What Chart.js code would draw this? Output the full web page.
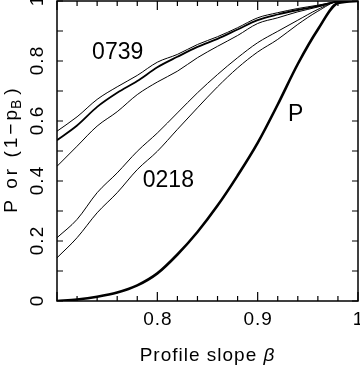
<!DOCTYPE html>
<html lang="en">
<head>
    <meta charset="UTF-8">
    <title>Profile slope</title>
    <script src="https://cdn.jsdelivr.net/npm/chart.js"></script>
    <style>
        html, body { margin: 0; padding: 0; background: white; }
        #wrap { width: 360px; height: 368px; position: relative; }
    </style>
</head>
<body>
    <div id="wrap"><canvas id="slopeChart"></canvas></div>

    <script>
        // profile slope beta (x) and the curves
        const betaValues = [0.70, 0.72, 0.74, 0.76, 0.78, 0.80, 0.82, 0.84, 0.86, 0.88, 0.90, 0.92, 0.94, 0.96, 0.98, 1.00];
        const curveTopThin = [0.566, 0.614, 0.672, 0.714, 0.752, 0.796, 0.822, 0.855, 0.881, 0.911, 0.944, 0.961, 0.975, 0.986, 0.998, 1.0];
        const curve0739 = [0.536, 0.585, 0.647, 0.694, 0.733, 0.779, 0.814, 0.847, 0.874, 0.905, 0.936, 0.955, 0.970, 0.983, 0.998, 1.0];
        const curveMidThin = [0.449, 0.516, 0.583, 0.631, 0.688, 0.730, 0.766, 0.811, 0.849, 0.885, 0.925, 0.944, 0.964, 0.980, 0.998, 1.0];
        const curve0218a = [0.211, 0.272, 0.361, 0.427, 0.499, 0.560, 0.627, 0.694, 0.755, 0.811, 0.861, 0.899, 0.936, 0.972, 0.998, 1.0];
        const curve0218b = [0.144, 0.211, 0.294, 0.361, 0.438, 0.499, 0.572, 0.644, 0.714, 0.777, 0.830, 0.872, 0.922, 0.966, 0.998, 1.0];
        const curveP = [0.0, 0.005, 0.014, 0.028, 0.052, 0.092, 0.155, 0.230, 0.318, 0.418, 0.527, 0.655, 0.790, 0.905, 0.993, 1.0];

        const xTickValues = [0.8, 0.9, 1.0];
        const xTickLabels = ["0.8", "0.9", "1"];
        const yTickValues = [0, 0.2, 0.4, 0.6, 0.8, 1.0];
        const yTickLabels = ["0", "0.2", "0.4", "0.6", "0.8", "1"];

        // text labels placed in data coordinates
        const curveLabels = [
            { text: "0739", x: 0.7605, y: 0.827 },
            { text: "0218", x: 0.811, y: 0.40 },
            { text: "P", x: 0.938, y: 0.622 }
        ];

        const FONT = '"Liberation Sans", Arial, sans-serif';

        function toPoints(values) {
            return betaValues.map((b, i) => ({ x: b, y: values[i] }));
        }

        function lineSet(values, width) {
            return {
                data: toPoints(values),
                borderColor: 'black',
                borderWidth: width,
                pointRadius: 0,
                fill: false,
                cubicInterpolationMode: 'monotone'
            };
        }

        // frame, inward ticks, tick labels, titles and curve labels
        const framePlugin = {
            id: 'frame',
            afterDraw(chart) {
                const ctx = chart.ctx;
                const xs = chart.scales.x;
                const ys = chart.scales.y;
                const a = chart.chartArea;
                ctx.save();
                ctx.strokeStyle = 'black';
                ctx.lineWidth = 1.5;
                ctx.strokeRect(a.left, a.top, a.right - a.left, a.bottom - a.top);

                ctx.lineWidth = 1.2;
                ctx.beginPath();
                // x ticks every 0.02, longer at the labelled ones
                for (let i = 0; i <= 15; i++) {
                    const px = xs.getPixelForValue(0.7 + i * 0.02);
                    const len = i % 5 === 0 ? 9 : 5;
                    ctx.moveTo(px, a.bottom); ctx.lineTo(px, a.bottom - len);
                    ctx.moveTo(px, a.top); ctx.lineTo(px, a.top + len);
                }
                // y ticks every 0.1
                for (let i = 0; i <= 10; i++) {
                    const py = ys.getPixelForValue(i * 0.1);
                    ctx.moveTo(a.left, py); ctx.lineTo(a.left + 6, py);
                    ctx.moveTo(a.right, py); ctx.lineTo(a.right - 6, py);
                }
                ctx.stroke();

                ctx.fillStyle = 'black';
                ctx.textAlign = 'center';
                ctx.textBaseline = 'middle';

                // tick labels
                ctx.letterSpacing = '1px';
                ctx.font = '19px ' + FONT;
                xTickValues.forEach((v, i) => {
                    ctx.fillText(xTickLabels[i], xs.getPixelForValue(v) + 0.5, a.bottom + 19);
                });
                yTickValues.forEach((v, i) => {
                    ctx.save();
                    ctx.translate(a.left - 19, ys.getPixelForValue(v));
                    ctx.rotate(-Math.PI / 2);
                    ctx.fillText(yTickLabels[i], 0.5, 0);
                    ctx.restore();
                });

                ctx.letterSpacing = '0px';
                ctx.font = '23px ' + FONT;
                curveLabels.forEach(l => {
                    ctx.fillText(l.text, xs.getPixelForValue(l.x), ys.getPixelForValue(l.y));
                });

                // x axis title, beta in italic
                const cx = (a.left + a.right) / 2;
                ctx.textBaseline = 'alphabetic';
                ctx.textAlign = 'left';
                ctx.letterSpacing = '1px';
                ctx.font = '19px ' + FONT;
                const part1 = 'Profile slope ';
                const w1 = ctx.measureText(part1).width;
                ctx.font = 'italic 19px ' + FONT;
                const w2 = ctx.measureText('\u03B2').width;
                const sx = cx - (w1 + w2) / 2;
                ctx.font = '19px ' + FONT;
                ctx.fillText(part1, sx, 361);
                ctx.font = 'italic 19px ' + FONT;
                ctx.fillText('\u03B2', sx + w1, 361);

                // y axis title with subscript B
                ctx.translate(16.5, (a.top + a.bottom) / 2 - 2);
                ctx.rotate(-Math.PI / 2);
                ctx.letterSpacing = '3px';
                ctx.font = '19px ' + FONT;
                const t1 = 'P or (1\u2212p';
                const t3 = ')';
                const tw1 = ctx.measureText(t1).width;
                const tw3 = ctx.measureText(t3).width;
                ctx.font = '14px ' + FONT;
                const tw2 = ctx.measureText('B').width;
                const tx = -(tw1 + tw2 + tw3) / 2;
                ctx.font = '19px ' + FONT;
                ctx.fillText(t1, tx, 0);
                ctx.font = '14px ' + FONT;
                ctx.fillText('B', tx + tw1 - 2, 4);
                ctx.font = '19px ' + FONT;
                ctx.fillText(t3, tx + tw1 + tw2, 0);
                ctx.restore();
            }
        };

        const config = {
            type: 'line',
            data: {
                datasets: [
                    lineSet(curveTopThin, 1),
                    lineSet(curve0739, 1.8),
                    lineSet(curveMidThin, 1),
                    lineSet(curve0218a, 1),
                    lineSet(curve0218b, 1),
                    lineSet(curveP, 2.6)
                ]
            },
            options: {
                responsive: true,
                maintainAspectRatio: false,
                animation: false,
                events: [],
                layout: { padding: { top: 1, right: 2, left: 0, bottom: 0 } },
                plugins: {
                    legend: { display: false },
                    tooltip: { enabled: false }
                },
                scales: {
                    x: {
                        type: 'linear',
                        min: 0.7,
                        max: 1.0,
                        grid: { display: false, drawTicks: false },
                        border: { display: false },
                        afterBuildTicks: scale => {
                            scale.ticks = xTickValues.map(v => ({ value: v }));
                        },
                        afterFit: scale => { scale.height = 67; },
                        ticks: { display: false }
                    },
                    y: {
                        type: 'linear',
                        min: 0,
                        max: 1,
                        grid: { display: false, drawTicks: false },
                        border: { display: false },
                        afterBuildTicks: scale => {
                            scale.ticks = yTickValues.map(v => ({ value: v }));
                        },
                        afterFit: scale => { scale.width = 57; },
                        ticks: { display: false }
                    }
                }
            },
            plugins: [framePlugin]
        };

        new Chart(document.getElementById('slopeChart').getContext('2d'), config);
    </script>
</body>
</html>
